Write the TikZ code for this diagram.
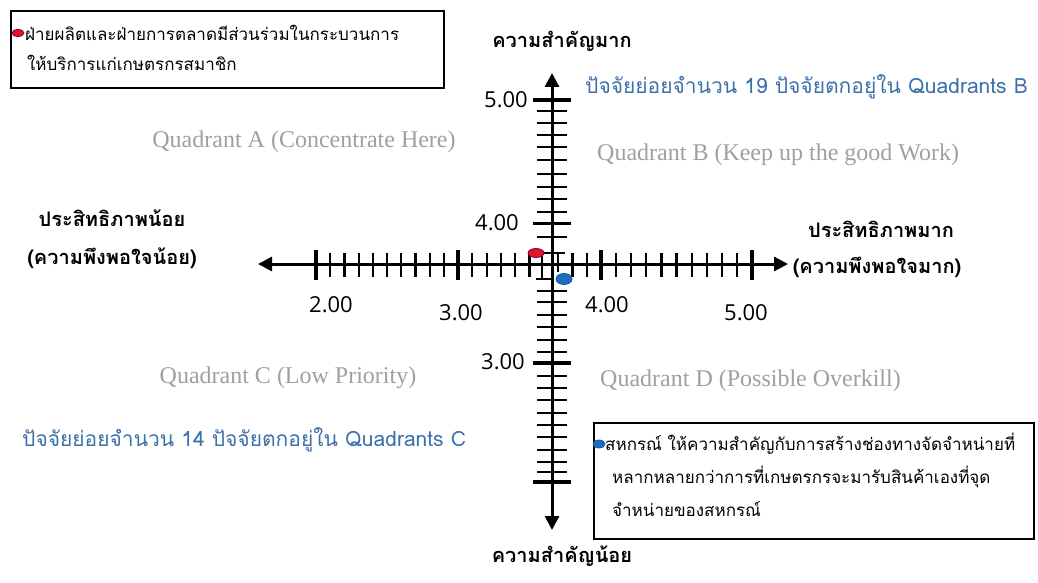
\documentclass[tikz,border=0pt]{standalone}
\usepackage{fontspec}
\usetikzlibrary{arrows.meta,shapes.geometric}
\newfontfamily\thai[Script=Thai]{Loma}
\newfontfamily\serq{Liberation Serif}
\newfontfamily\numf{Open Sans}
\definecolor{qblue}{RGB}{62,112,170}
\definecolor{qgray}{RGB}{160,160,160}
\definecolor{dotred}{RGB}{225,20,40}
\definecolor{dotblue}{RGB}{30,110,190}
\begin{document}
\begin{tikzpicture}[x=1pt,y=-1pt,
  axislbl/.style={font=\thai\bfseries\fontsize{20}{24}\selectfont, inner sep=0},
  quad/.style={font=\serq\fontsize{24}{28}\selectfont, text=qgray, inner sep=0},
  num/.style={font=\numf\fontsize{22}{26}\selectfont, inner sep=0},
  bluelbl/.style={font=\thai\fontsize{21}{25}\selectfont, text=qblue, inner sep=0, anchor=west},
  boxtxt/.style={font=\thai\fontsize{17}{20}\selectfont, inner sep=0, anchor=west},
  infobox/.style={draw, line width=1.6pt, inner sep=0, anchor=north west},
  axisline/.style={line width=3pt, {Triangle[length=14pt,width=14pt]}-{Triangle[length=14pt,width=14pt]}},
  minortick/.style={line width=2.2pt},
  majortick/.style={line width=3.6pt},
  dot/.style={ellipse, draw, line width=0.8pt, inner sep=0}
]
\useasboundingbox (0,0) rectangle (1038,583);
\fill[white] (0,0) rectangle (1038,583);

% axes
\coordinate (xl) at (258,264);
\coordinate (xr) at (788,264);
\coordinate (yt) at (552,73);
\coordinate (yb) at (552,530);
\draw[axisline] (xl) -- (xr);
\draw[axisline] (yt) -- (yb);

% horizontal ticks
\foreach \x in {316,458,601,752} \draw[majortick] (\x,250) -- (\x,280);
\foreach \i in {1,...,9} \draw[minortick] ({316+\i*14.2},253) -- ({316+\i*14.2},277);
\foreach \i in {1,2,3,4,5,8,9} \draw[minortick] ({458+\i*14.3},253) -- ({458+\i*14.3},277);
\foreach \i in {1,...,9} \draw[minortick] ({601+\i*15.1},253) -- ({601+\i*15.1},277);

% vertical ticks
\foreach \y in {100,223.3,362.7,481.7} \draw[majortick] (533,\y) -- (571,\y);
\foreach \y in {110.7,122.7,135,147.3,160,174.3,186.7,199.3,211.7,236.7,290.7,301.7,315,327.3,340,351.7,376,388.3,400,412.7,425,436.7,450,461.7,471.7}
  \draw[minortick] (537,\y) -- (567,\y);

% centre overlap lines
\draw[minortick] (541.7,253) -- (565,253);
\draw[minortick] (541.7,253) -- (541.7,279);
\draw[minortick] (558.3,253) -- (558.3,272);
\draw[minortick] (536,279) -- (552,279);

% points
\node[dot, fill=dotred, draw=purple!70!black, minimum width=16pt, minimum height=9pt] (pr) at (536,253) {};
\node[dot, fill=dotblue, draw=dotblue!80!black, minimum width=16pt, minimum height=11pt] (pb) at (564,279) {};

% axis titles
\node[axislbl] (top) at (562,41) {ความสำคัญมาก};
\node[axislbl] (bot) at (562,556) {ความสำคัญน้อย};
\node[axislbl] (l1) at (112,218) {ประสิทธิภาพน้อย};
\node[axislbl] (l2) at (112,258) {(ความพึงพอใจน้อย)};
\node[axislbl] (r1) at (881,229) {ประสิทธิภาพมาก};
\node[axislbl] (r2) at (877,267) {(ความพึงพอใจมาก)};

% numbers
\node[num, anchor=east] (v5) at (528,100) {5.00};
\node[num, anchor=east] (v4) at (519,223) {4.00};
\node[num, anchor=east] (v3) at (525,362) {3.00};
\node[num] (h2) at (331,305) {2.00};
\node[num] (h3) at (461,313) {3.00};
\node[num] (h4) at (607,305) {4.00};
\node[num] (h5) at (746,313) {5.00};

% quadrants
\node[quad] (qa) at (304,142) {Quadrant A (Concentrate Here)};
\node[quad, anchor=west] (qb) at (597,155) {Quadrant B (Keep up the good Work)};
\node[quad] (qc) at (288,378) {Quadrant C (Low Priority)};
\node[quad, anchor=west] (qd) at (600,381) {Quadrant D (Possible Overkill)};

% blue counts
\node[bluelbl] (cb) at (585,87) {ปัจจัยย่อยจำนวน 19 ปัจจัยตกอยู่ใน Quadrants B};
\node[bluelbl] (cc) at (22,440) {ปัจจัยย่อยจำนวน 14 ปัจจัยตกอยู่ใน Quadrants C};

% box 1
\node[infobox, minimum width=433pt, minimum height=77pt] (box1) at (10,10) {};
\node[dot, fill=dotred, draw=purple!70!black, minimum width=12pt, minimum height=7pt] (b1dot) at (18,33) {};
\node[boxtxt] (b1a) at (25,33) {ฝ่ายผลิตและฝ่ายการตลาดมีส่วนร่วมในกระบวนการ};
\node[boxtxt] (b1b) at (27,63) {ให้บริการแก่เกษตรกรสมาชิก};

% box 2
\node[infobox, minimum width=440pt, minimum height=116pt] (box2) at (593,422) {};
\node[dot, fill=dotblue, draw=dotblue!80!black, minimum width=12pt, minimum height=8pt] (b2dot) at (599,444) {};
\node[boxtxt] (b2a) at (605,444) {สหกรณ์ ให้ความสำคัญกับการสร้างช่องทางจัดจำหน่ายที่};
\node[boxtxt] (b2b) at (612,477) {หลากหลายกว่าการที่เกษตรกรจะมารับสินค้าเองที่จุด};
\node[boxtxt] (b2c) at (612,509) {จำหน่ายของสหกรณ์};
\end{tikzpicture}
\end{document}
